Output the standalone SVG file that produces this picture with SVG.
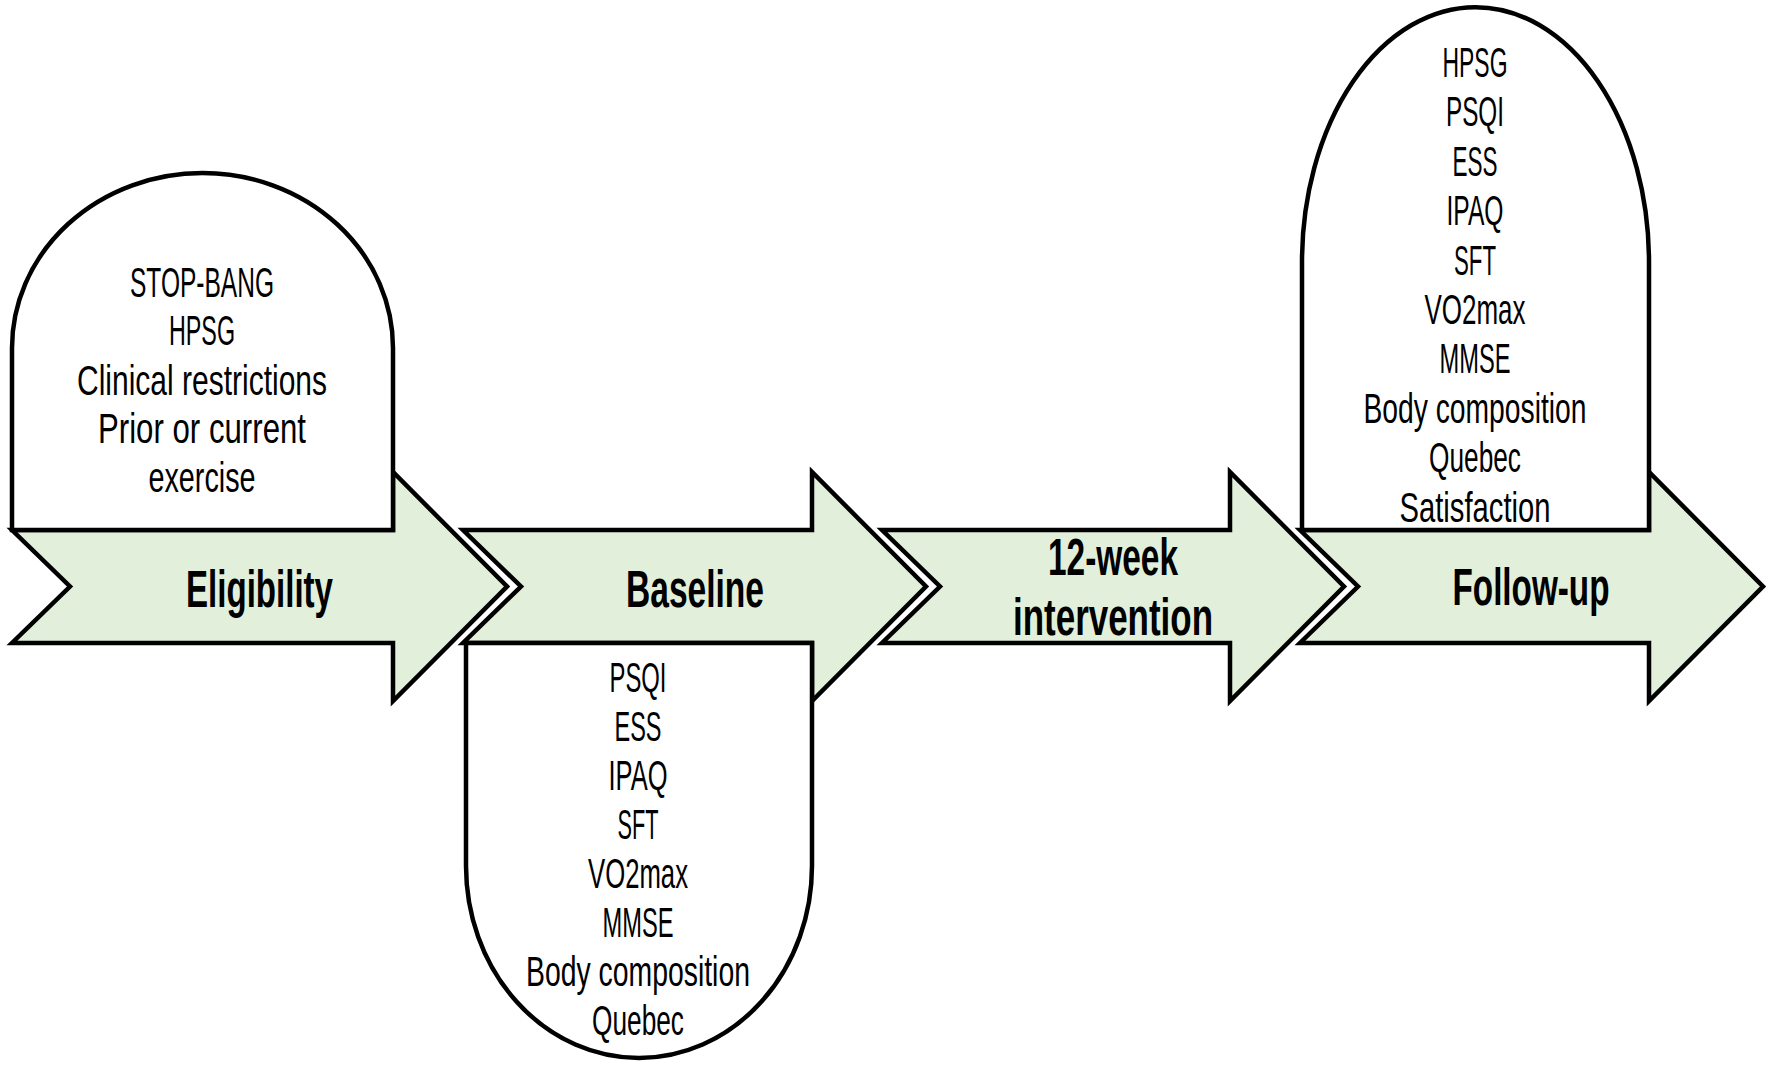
<svg xmlns="http://www.w3.org/2000/svg" width="1772" height="1069" viewBox="0 0 1772 1069">
<style>
.arrow{fill:#e2efda;stroke:#000;stroke-width:4.5;stroke-linejoin:miter}
.box{fill:#fff;stroke:#000;stroke-width:4.5;stroke-linejoin:miter}
.t{font-family:"Liberation Sans",Arial,sans-serif;font-size:42px;fill:#000;text-anchor:middle}
.b{font-family:"Liberation Sans",Arial,sans-serif;font-size:51px;font-weight:bold;fill:#000;text-anchor:middle}
</style>
<rect width="1772" height="1069" fill="#fff"/>
<g id="connectors">
<path class="arrow" d="M12,530 L393,530 L393,472 L507,586.5 L393,701 L393,643 L12,643 L70,586.5 Z"/>
<path class="arrow" d="M463,530 L812,530 L812,472 L926,586.5 L812,701 L812,643 L463,643 L521,586.5 Z"/>
<path class="arrow" d="M882,530 L1230,530 L1230,472 L1344,586.5 L1230,701 L1230,643 L882,643 L940,586.5 Z"/>
<path class="arrow" d="M1300,530 L1649,530 L1649,472 L1763,586.5 L1649,701 L1649,643 L1300,643 L1358,586.5 Z"/>
</g>
<g id="eligibility">
<path class="box" d="M12,530 L12,348 A190.5,175 0 0 1 393,348 L393,530 Z"/>
<text class="t" x="202" y="297" textLength="144" lengthAdjust="spacingAndGlyphs">STOP-BANG</text>
<text class="t" x="202" y="345" textLength="66" lengthAdjust="spacingAndGlyphs">HPSG</text>
<text class="t" x="202" y="395" textLength="250" lengthAdjust="spacingAndGlyphs">Clinical restrictions</text>
<text class="t" x="202" y="443" textLength="208" lengthAdjust="spacingAndGlyphs">Prior or current</text>
<text class="t" x="202" y="492" textLength="107" lengthAdjust="spacingAndGlyphs">exercise</text>
<text class="b" x="259.5" y="607" textLength="147" lengthAdjust="spacingAndGlyphs">Eligibility</text>
</g>
<g id="baseline">
<path class="box" d="M466,643 L812,643 L812,866 A173,192 0 0 1 466,866 Z"/>
<text class="b" x="695" y="607" textLength="138" lengthAdjust="spacingAndGlyphs">Baseline</text>
<text class="t" x="638" y="692" textLength="57" lengthAdjust="spacingAndGlyphs">PSQI</text>
<text class="t" x="638" y="741" textLength="47" lengthAdjust="spacingAndGlyphs">ESS</text>
<text class="t" x="638" y="790" textLength="59" lengthAdjust="spacingAndGlyphs">IPAQ</text>
<text class="t" x="638" y="839" textLength="41" lengthAdjust="spacingAndGlyphs">SFT</text>
<text class="t" x="638" y="888" textLength="100" lengthAdjust="spacingAndGlyphs">VO2max</text>
<text class="t" x="638" y="937" textLength="71" lengthAdjust="spacingAndGlyphs">MMSE</text>
<text class="t" x="638" y="986" textLength="224" lengthAdjust="spacingAndGlyphs">Body composition</text>
<text class="t" x="638" y="1035" textLength="92" lengthAdjust="spacingAndGlyphs">Quebec</text>
</g>
<g id="intervention">
<text class="b" x="1113" y="575" textLength="130" lengthAdjust="spacingAndGlyphs">12-week</text>
<text class="b" x="1113" y="635" textLength="200" lengthAdjust="spacingAndGlyphs">intervention</text>
</g>
<g id="followup">
<path class="box" d="M1302,530 L1302,262 A173.5,255 0 0 1 1649,262 L1649,530 Z"/>
<text class="t" x="1475" y="77" textLength="65" lengthAdjust="spacingAndGlyphs">HPSG</text>
<text class="t" x="1475" y="126" textLength="58" lengthAdjust="spacingAndGlyphs">PSQI</text>
<text class="t" x="1475" y="176" textLength="45" lengthAdjust="spacingAndGlyphs">ESS</text>
<text class="t" x="1475" y="225" textLength="57" lengthAdjust="spacingAndGlyphs">IPAQ</text>
<text class="t" x="1475" y="275" textLength="42" lengthAdjust="spacingAndGlyphs">SFT</text>
<text class="t" x="1475" y="324" textLength="101" lengthAdjust="spacingAndGlyphs">VO2max</text>
<text class="t" x="1475" y="373" textLength="71" lengthAdjust="spacingAndGlyphs">MMSE</text>
<text class="t" x="1475" y="423" textLength="223" lengthAdjust="spacingAndGlyphs">Body composition</text>
<text class="t" x="1475" y="472" textLength="92" lengthAdjust="spacingAndGlyphs">Quebec</text>
<text class="t" x="1475" y="522" textLength="151" lengthAdjust="spacingAndGlyphs">Satisfaction</text>
<text class="b" x="1531" y="605" textLength="157" lengthAdjust="spacingAndGlyphs">Follow-up</text>
</g>
</svg>
